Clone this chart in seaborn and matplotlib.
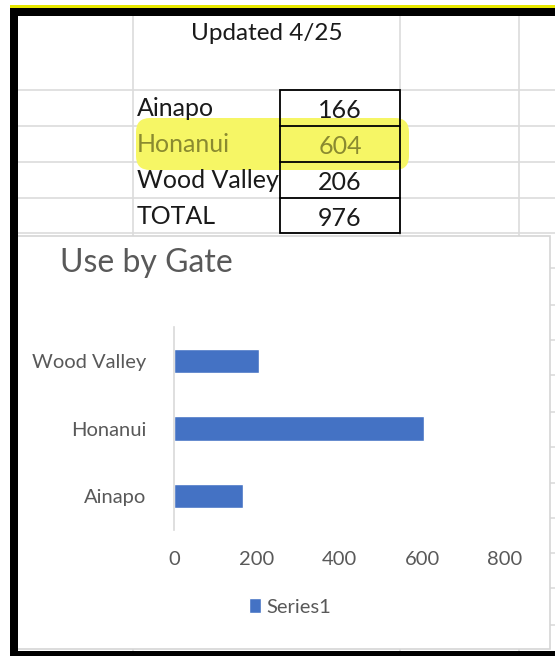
import matplotlib.pyplot as plt
import seaborn as sns
from matplotlib.patches import Rectangle, FancyBboxPatch

gates = ["Ainapo", "Honanui", "Wood Valley"]
uses = [166, 604, 206]
total_label = "TOTAL"
updated = "Updated 4/25"
chart_title = "Use by Gate"
series_name = "Series1"
x_ticks = [0, 200, 400, 600, 800]

sns.set_style("white")
plt.rcParams["font.family"] = ["Lato", "DejaVu Sans"]

fig = plt.figure(figsize=(5.55, 6.56), dpi=100)

# background axes in pixel coordinates for the spreadsheet decoration
bg = fig.add_axes([0, 0, 1, 1])
bg.set_xlim(0, 555)
bg.set_ylim(656, 0)
bg.axis("off")

grid_c = "#dcdcdc"
for yy in [90, 126, 162, 198, 233, 268, 305, 340, 375, 412, 447, 483, 518, 553, 588, 625]:
    bg.plot([17, 555], [yy, yy], color=grid_c, lw=1.2, zorder=1)
for xx in [133, 400, 519]:
    bg.plot([xx, xx], [14, 656], color=grid_c, lw=1.2, zorder=1)

# chart area
bg.add_patch(Rectangle((17, 236), 533, 413, facecolor="white", edgecolor="#d6d6d6", lw=1.2, zorder=2))

# table with highlighter stroke
bg.add_patch(FancyBboxPatch((140, 122), 265, 44, boxstyle="round,pad=4,rounding_size=14",
                            facecolor="#f6f665", edgecolor="none", zorder=3))
bg.add_patch(Rectangle((280, 90), 120, 143, facecolor="none", edgecolor="black", lw=1.3, zorder=4))
for yy in [126, 162, 198]:
    bg.plot([280, 400], [yy, yy], color="black", lw=1.3, zorder=4)

bg.text(267, 33, updated, ha="center", va="center", fontsize=17.5, color="#1a1a1a", zorder=5)
rows = list(zip(gates, uses)) + [(total_label, sum(uses))]
for i, (name, val) in enumerate(rows):
    yy = 108 + i * 36
    col = "#8a8a30" if name == "Honanui" else "#1a1a1a"
    bg.text(137, yy, name, ha="left", va="center", fontsize=18, color=col, zorder=5)
    bg.text(340, yy + 2, str(val), ha="center", va="center", fontsize=18, color=col, zorder=5)

bg.text(60, 263, chart_title, ha="left", va="center", fontsize=23, color="#595959", zorder=5)

# screenshot frame
bg.add_patch(Rectangle((10, 5), 545, 3, facecolor="#e8e800", edgecolor="none", zorder=6))
bg.add_patch(Rectangle((10, 8), 545, 8, facecolor="black", edgecolor="none", zorder=6))
bg.add_patch(Rectangle((10, 8), 8, 648, facecolor="black", edgecolor="none", zorder=6))
bg.add_patch(Rectangle((10, 651), 545, 5, facecolor="black", edgecolor="none", zorder=6))

# the bar chart
ax = fig.add_axes([174 / 555, (656 - 530) / 656, (505 - 174) / 555, 203 / 656])
ax.patch.set_alpha(0)
sns.barplot(x=uses, y=gates, order=gates[::-1], orient="h", color="#4472C4",
            width=0.36, saturation=1, label=series_name, ax=ax)
ax.set_xlim(0, 800)
ax.set_xticks(x_ticks)
ax.set_xlabel("")
ax.set_ylabel("")
for s in ["top", "right", "bottom"]:
    ax.spines[s].set_visible(False)
ax.spines["left"].set_color("#d9d9d9")
ax.spines["left"].set_linewidth(1.2)
ax.tick_params(axis="x", length=0, pad=15, labelsize=14.5, labelcolor="#595959")
ax.tick_params(axis="y", length=0, pad=20, labelsize=14.5, labelcolor="#595959")
ax.legend(loc="center", bbox_to_anchor=(290 / 555, (656 - 607) / 656), bbox_transform=fig.transFigure,
          frameon=False, handlelength=0.6, handleheight=0.7, handletextpad=0.3,
          fontsize=14.5, labelcolor="#595959")

fig.savefig("out.png", dpi=100)
